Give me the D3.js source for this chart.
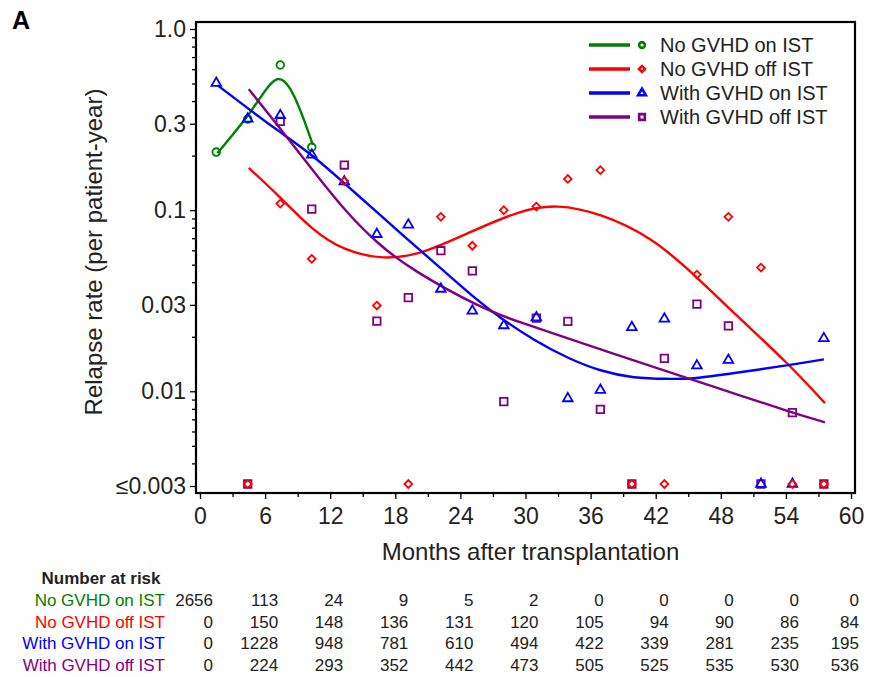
<!DOCTYPE html>
<html>
<head>
<meta charset="utf-8">
<script src="https://cdn.jsdelivr.net/npm/d3@7"></script>
<style>
body{margin:0;background:#fff;}
text{font-family:"Liberation Sans",Arial,Helvetica,sans-serif;}
</style>
</head>
<body>
<div id="chart"></div>
<script>
// observed rates, one point per ~3 month interval (0 = no relapse, shown at floor)
const months = [1.5, 4.4, 7.4, 10.3, 13.3, 16.3, 19.2, 22.2, 25.1, 28.0, 31.0, 33.9, 36.9, 39.8, 42.8, 45.8, 48.7, 51.7, 54.6, 57.5]
const noGvhdOn  = [0.204, 0.31, 0.617, 0.217, null, null, null, null, null, null, null, null, null, null, null, null, null, null, null, null]
const noGvhdOff = [null, 0, 0.106, 0.0525, 0.141, 0.029, 0, 0.0895, 0.062, 0.0975, 0.102, 0.145, 0.162, 0, 0, 0.043, 0.0895, 0.047, 0, 0]
const gvhdOn    = [0.49, 0.311, 0.325, 0.197, 0.140, 0.0718, 0.0809, 0.0358, 0.0271, 0.0225, 0.0249, 0.0089, 0.0099, 0.022, 0.0245, 0.0135, 0.0145, 0, 0, 0.0191]
const gvhdOff   = [null, 0, 0.301, 0.0987, 0.173, 0.0238, 0.0321, 0.0582, 0.045, 0.00855, 0.0247, 0.0237, 0.00775, 0, 0.0148, 0.0295, 0.0224, 0, 0.00743, 0]

// smoothed curves
const noOnFitMonths = [1.6, 3.1, 4.5, 5.9, 7.1, 8.3, 9.5, 10.4]
const noOnFit       = [0.206, 0.265, 0.335, 0.45, 0.56, 0.49, 0.328, 0.229]
const noOffFitMonths = [4.5, 7.4, 10.4, 13.2, 16.9, 20.6, 24.6, 29.5, 32.9, 36.9, 41.6, 45.8, 49.2, 54.2, 57.6]
const noOffFit       = [0.171, 0.118, 0.077, 0.060, 0.053, 0.0576, 0.0743, 0.100, 0.108, 0.096, 0.0712, 0.0428, 0.027, 0.0143, 0.0086]
const onFitMonths = [1.6, 4.5, 7.5, 10.4, 13.3, 16.3, 19.2, 22.2, 25.2, 27.7, 30.8, 33.9, 36.9, 40.0, 43.1, 45.5, 49.2, 54.2, 57.5]
const onFit       = [0.49, 0.361, 0.266, 0.201, 0.141, 0.0975, 0.0683, 0.0478, 0.0331, 0.0253, 0.0191, 0.0152, 0.0129, 0.0118, 0.0117, 0.0117, 0.0126, 0.0139, 0.0150]
const offFitMonths = [4.5, 7.5, 10.4, 13.3, 16.3, 19.4, 25.9, 29.5, 33.9, 40.0, 45.5, 49.2, 54.5, 57.6]
const offFit       = [0.465, 0.277, 0.166, 0.100, 0.0657, 0.0472, 0.0287, 0.0240, 0.0196, 0.0148, 0.0115, 0.00975, 0.00766, 0.00674]

const groupNames = ['No GVHD on IST', 'No GVHD off IST', 'With GVHD on IST', 'With GVHD off IST']
const xTicks = [0, 6, 12, 18, 24, 30, 36, 42, 48, 54, 60]
const yTicks = [1, 0.3, 0.1, 0.03, 0.01, 0.003]
const yTickLabels = ['1.0', '0.3', '0.1', '0.03', '0.01', '\u22640.003']

// number at risk at each x tick
const riskNoOn   = [2656, 113, 24, 9, 5, 2, 0, 0, 0, 0, 0]
const riskNoOff  = [0, 150, 148, 136, 131, 120, 105, 94, 90, 86, 84]
const riskOn     = [0, 1228, 948, 781, 610, 494, 422, 339, 281, 235, 195]
const riskOff    = [0, 224, 293, 352, 442, 473, 505, 525, 535, 530, 536]

const colors = ['#008000', '#ff0000', '#0000ff', '#800080']
const floorVal = 0.003

const width = 877, height = 677
const frame = {left: 196, right: 855, top: 22, bottom: 493}

const svg = d3.select('#chart').append('svg')
    .attr('width', width)
    .attr('height', height)

const x = d3.scaleLinear().domain([0, 60]).range([200, 851])
const y = d3.scaleLog().domain([floorVal, 1]).range([486, 29])

// symbols per group
const symbolFor = [
    d3.symbol().type(d3.symbolCircle).size(46),
    d3.symbol().type(d3.symbolSquare).size(30),
    d3.symbol().type(d3.symbolTriangle).size(40),
    d3.symbol().type(d3.symbolSquare).size(56)
]
const legendSymbol = [
    d3.symbol().type(d3.symbolCircle).size(26),
    d3.symbol().type(d3.symbolSquare).size(18),
    d3.symbol().type(d3.symbolTriangle).size(26),
    d3.symbol().type(d3.symbolSquare).size(32)
]
const rotFor = [0, 45, 0, 0]

svg.append('text')
    .attr('x', 12).attr('y', 29)
    .attr('font-size', 25).attr('font-weight', 'bold')
    .text('A')

// axes
const yAxis = d3.axisLeft(y)
    .tickValues(yTicks)
    .tickFormat((d, i) => yTickLabels[i])
    .tickSize(6)
const yMinor = d3.axisLeft(y)
    .tickValues(y.ticks().filter(t => !yTicks.some(v => Math.abs(v - t) < 1e-9)))
    .tickFormat('')
    .tickSize(4)
const xAxis = d3.axisBottom(x).tickValues(xTicks).tickSize(6)
const xMinor = d3.axisBottom(x).tickValues(d3.range(3, 60, 6)).tickFormat('').tickSize(4)

const gy = svg.append('g').attr('transform', `translate(${frame.left},0)`).call(yAxis)
svg.append('g').attr('transform', `translate(${frame.left},0)`).call(yMinor)
const gx = svg.append('g').attr('transform', `translate(0,${frame.bottom})`).call(xAxis)
svg.append('g').attr('transform', `translate(0,${frame.bottom})`).call(xMinor)
svg.selectAll('.domain').remove()
svg.selectAll('.tick line').attr('stroke', '#000').attr('stroke-width', 1.3)
gy.selectAll('text').attr('font-size', 23).attr('fill', '#222').attr('dx', -1).attr('font-family', '"Liberation Sans",Arial,sans-serif')
gx.selectAll('text').attr('font-size', 23).attr('fill', '#222').attr('dy', '0.95em').attr('font-family', '"Liberation Sans",Arial,sans-serif')

svg.append('rect')
    .attr('x', frame.left).attr('y', frame.top)
    .attr('width', frame.right - frame.left).attr('height', frame.bottom - frame.top)
    .attr('fill', 'none').attr('stroke', '#000').attr('stroke-width', 2.2)

svg.append('text')
    .attr('transform', 'translate(102,252) rotate(-90)')
    .attr('text-anchor', 'middle')
    .attr('font-size', 24).attr('fill', '#222')
    .text('Relapse rate (per patient-year)')
svg.append('text')
    .attr('x', (x(0) + x(60)) / 2 + 5).attr('y', 560)
    .attr('text-anchor', 'middle')
    .attr('font-size', 24).attr('fill', '#222')
    .text('Months after transplantation')

// fitted curves
const fits = [
    [noOnFitMonths, noOnFit],
    [noOffFitMonths, noOffFit],
    [onFitMonths, onFit],
    [offFitMonths, offFit]
]
const line = d3.line()
    .x(d => x(d[0]))
    .y(d => y(d[1]))
    .curve(d3.curveBasis)

fits.forEach((f, i) => {
    svg.append('path')
        .datum(d3.zip(f[0], f[1]))
        .attr('d', line)
        .attr('fill', 'none')
        .attr('stroke', colors[i])
        .attr('stroke-width', 2.4)
})

// points
const series = [noGvhdOn, noGvhdOff, gvhdOn, gvhdOff]
const drawOrder = [0, 3, 2, 1]
drawOrder.forEach(i => {
    const pts = months.map((m, j) => [m, series[i][j]]).filter(d => d[1] !== null)
    svg.append('g').selectAll('path')
        .data(pts)
        .join('path')
        .attr('transform', d => `translate(${x(d[0])},${y(Math.max(d[1], floorVal)) - 2}) rotate(${rotFor[i]})`)
        .attr('d', symbolFor[i]())
        .attr('fill', 'none')
        .attr('stroke', colors[i])
        .attr('stroke-width', 1.8)
})

// legend
const legend = svg.append('g')
groupNames.forEach((name, i) => {
    const ly = 45 + i * 24
    legend.append('line')
        .attr('x1', 589).attr('x2', 630).attr('y1', ly).attr('y2', ly)
        .attr('stroke', colors[i]).attr('stroke-width', 3.5)
    legend.append('path')
        .attr('transform', `translate(642,${ly}) rotate(${rotFor[i]})`)
        .attr('d', legendSymbol[i]())
        .attr('fill', 'none').attr('stroke', colors[i]).attr('stroke-width', 2.6)
    legend.append('text')
        .attr('x', 660).attr('y', ly + 7)
        .attr('font-size', 20).attr('fill', '#222')
        .text(name)
})

// number at risk table
svg.append('text')
    .attr('x', 101).attr('y', 584)
    .attr('text-anchor', 'middle')
    .attr('font-size', 17).attr('font-weight', 'bold').attr('fill', '#222')
    .text('Number at risk')
const risk = [riskNoOn, riskNoOff, riskOn, riskOff]
risk.forEach((row, i) => {
    const ry = 606 + i * 21.7
    svg.append('text')
        .attr('x', 165).attr('y', ry)
        .attr('text-anchor', 'end')
        .attr('font-size', 17).attr('fill', colors[i])
        .text(groupNames[i])
    svg.append('g').selectAll('text')
        .data(row)
        .join('text')
        .attr('x', (d, j) => Math.min(x(xTicks[j]) + 13, 859))
        .attr('y', ry)
        .attr('text-anchor', 'end')
        .attr('font-size', 17).attr('fill', '#222')
        .text(d => d)
})
</script>
</body>
</html>
